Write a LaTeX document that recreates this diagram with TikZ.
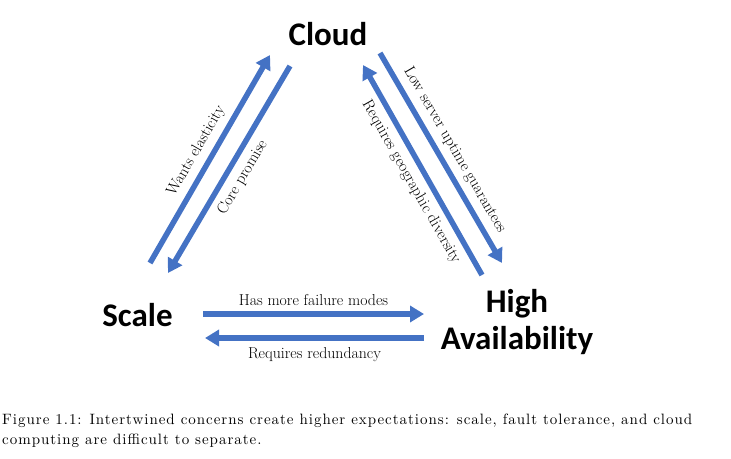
\documentclass[tikz,border=0pt]{standalone}
\usepackage{fontspec}
\newfontfamily\headfont{Carlito}
\newfontfamily\capfont{lmroman10-regular}[Extension=.otf, LetterSpace=6.5]
\usetikzlibrary{arrows.meta}
\definecolor{arrowblue}{HTML}{4472C4}
\begin{document}
\begin{tikzpicture}[x=1pt,y=-1pt,
  head/.style={font=\headfont\bfseries\fontsize{33}{37}\selectfont, inner sep=0pt},
  link/.style={draw=arrowblue, line width=5.5pt, -{Triangle[length=14pt,width=16pt]}},
  lab/.style={font=\fontsize{15.8}{18}\selectfont, inner sep=2pt},
  captext/.style={font=\capfont\fontsize{15}{18}\selectfont, inner sep=0pt, anchor=base west}]
\useasboundingbox (0,0) rectangle (731,458);
\node[head, anchor=base] (cloud) at (328,45) {Cloud};
\node[head, anchor=base] (scale) at (137.5,326) {Scale};
\node[head, align=center] (ha) at (517,322.5) {High\\Availability};
% endpoints
\coordinate (we1) at (150,263); \coordinate (we2) at (270,55);
\coordinate (cp1) at (290,66);  \coordinate (cp2) at (168,273);
\coordinate (rg1) at (482,275); \coordinate (rg2) at (363,65);
\coordinate (lu1) at (380,53);  \coordinate (lu2) at (502,263);
\coordinate (hm1) at (203,314); \coordinate (hm2) at (424,314);
\coordinate (rr1) at (424,338); \coordinate (rr2) at (205,338);
\draw[link] (we1) -- node[lab, sloped, above=4pt] {Wants elasticity} (we2);
\draw[link] (cp1) -- node[lab, sloped, below=4pt] {Core promise} (cp2);
\draw[link] (rg1) -- node[lab, sloped, below=4pt, pos=0.48] {Requires geographic diversity} (rg2);
\draw[link] (lu1) -- node[lab, sloped, above=4pt] {Low server uptime guarantees} (lu2);
\draw[link] (hm1) -- node[lab, above=3.5pt] {Has more failure modes} (hm2);
\draw[link] (rr1) -- node[lab, below=5pt] {Requires redundancy} (rr2);
\node[captext] (cap1) at (2,424) {Figure 1.1: Intertwined concerns create higher expectations: scale, fault tolerance, and cloud};
\node[captext] (cap2) at (2,444) {computing are difficult to separate.};
\end{tikzpicture}
\end{document}
